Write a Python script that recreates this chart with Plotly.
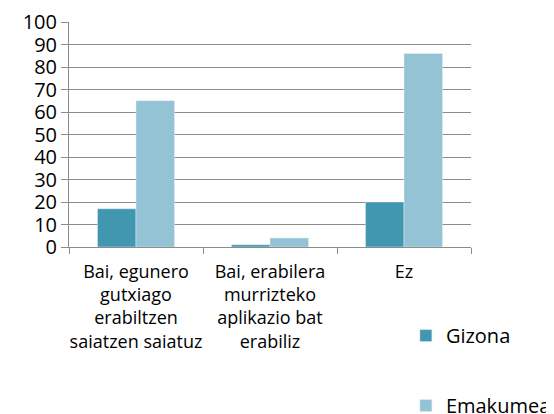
import plotly.graph_objects as go

categories = [
    "Bai, egunero<br>gutxiago<br>erabiltzen<br>saiatzen saiatuz",
    "Bai, erabilera<br>murrizteko<br>aplikazio bat<br>erabiliz",
    "Ez",
]
gizona = [17, 1, 20]
emakumea = [65, 4, 86]
y_ticks = list(range(0, 101, 10))

fig = go.Figure()
fig.add_trace(go.Bar(x=categories, y=gizona, name="Gizona", marker_color="#4297B0",
                     legendgroup="g1"))
fig.add_trace(go.Bar(x=categories, y=emakumea, name="Emakumea", marker_color="#93C3D5",
                     legendgroup="g2"))

# the page body adds an 8px margin, so the figure is sized 8px smaller
fig.update_layout(
    width=546, height=406,
    margin=dict(l=61, r=83, t=14, b=167, autoexpand=False),
    paper_bgcolor="white", plot_bgcolor="white",
    barmode="group", bargap=0.425, bargroupgap=0,
    font=dict(family="Open Sans, Liberation Sans, sans-serif", color="black"),
    showlegend=True,
    legend=dict(x=0.838, y=-0.307, xanchor="left", yanchor="top",
                traceorder="grouped", tracegroupgap=41,
                font=dict(size=20), itemwidth=30, bgcolor="rgba(0,0,0,0)"),
)
fig.update_yaxes(range=[0, 100], tickvals=y_ticks, showgrid=True, gridcolor="#8c8c8c",
                 gridwidth=1, showline=True, linecolor="#8c8c8c", ticks="outside",
                 ticklen=7, tickcolor="#8c8c8c", tickfont=dict(size=20), zeroline=False,
                 automargin=False, fixedrange=True)
fig.update_xaxes(showline=True, linecolor="#8c8c8c", ticks="outside", tickson="boundaries",
                 ticklen=6, tickcolor="#8c8c8c", tickfont=dict(size=18), tickangle=0,
                 ticklabelstandoff=8, automargin=False, fixedrange=True)

fig.write_html("out.html")
